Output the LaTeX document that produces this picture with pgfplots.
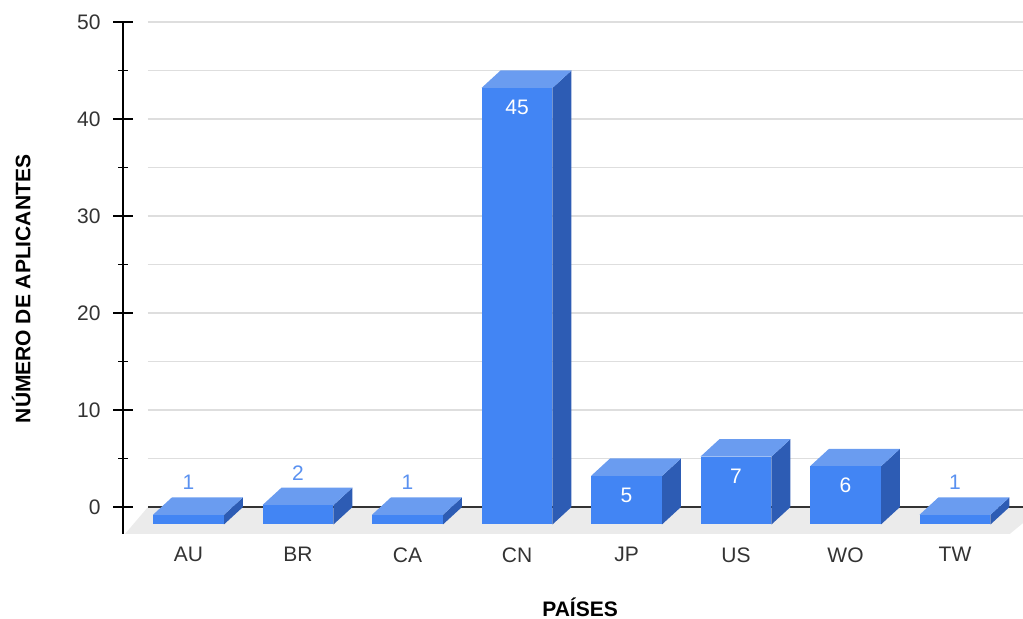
\documentclass[border=0pt]{standalone}
\usepackage{pgfplots}
\pgfplotsset{compat=1.18}
\usepackage{pgfplotstable}
\usepackage{fontspec}
\setmainfont{Liberation Sans}

\definecolor{barfront}{HTML}{4285F4}
\definecolor{bartop}{HTML}{6A9CF0}
\definecolor{barside}{HTML}{2D5CB4}
\definecolor{floorgray}{HTML}{EBEBEB}
\definecolor{gridgray}{HTML}{DEDEDE}
\definecolor{labelblue}{HTML}{5A91F0}
\definecolor{axisdark}{HTML}{333333}
\definecolor{textdark}{HTML}{333333}

% applicants per country
\pgfplotstableread{
idx pais val
0 AU 1
1 BR 2
2 CA 1
3 CN 45
4 JP 5
5 US 7
6 WO 6
7 TW 1
}\paises

% box geometry in axis units
\def\hw{0.324}   % half width of the front face
\def\ddx{0.1735} % depth offset along x
\def\ddy{1.8}    % depth offset along y

\newcommand\chartfont{\fontsize{21}{25}\selectfont}
\newcommand\titlefont{\fontsize{21}{25}\selectfont}

\begin{document}
\begin{tikzpicture}
\begin{axis}[
  x=109.5pt, y=9.7pt,
  xmin=-0.598, xmax=7.621, ymin=-2.78, ymax=50,
  axis lines*=left,
  axis line style={line width=1.3pt, black},
  x axis line style={draw=none},
  xtick={0,...,7},
  xticklabels={AU,BR,CA,CN,JP,US,WO,TW},
  x tick style={draw=none},
  ytick={0,10,...,50},
  minor ytick={5,15,...,45},
  tick align=center,
  major tick length=20pt,
  minor tick length=10pt,
  y tick style={line width=1.3pt, black},
  tick label style={font=\chartfont, text=textdark},
  /pgf/number format/assume math mode=true,
  xticklabel style={yshift=0pt},
  yticklabel style={xshift=-9pt},
  xlabel={PAÍSES},
  ylabel={NÚMERO DE APLICANTES},
  every axis x label/.style={at={(axis description cs:0.5078,-0.1605)}, anchor=base,
    inner sep=0pt, font=\titlefont\bfseries, text=black},
  every axis y label/.style={at={(axis description cs:-0.1133,0.4785)}, rotate=90, anchor=center,
    font=\titlefont\bfseries, text=black},
  clip=true,
]
% floor
\addplot[fill=floorgray, draw=none] coordinates {(-0.58,-2.78) (7.50,-2.78) (7.80,0) (-0.37,0)};
% back-plane grid
\pgfplotsinvokeforeach{5,10,...,50}{
  \draw[gridgray, line width=1.2pt] (axis cs:-0.37,#1) -- (axis cs:7.7,#1);
}
\draw[axisdark, line width=1.6pt] (axis cs:-0.37,0) -- (axis cs:7.7,0);
% boxes: side, top, front
\pgfplotsinvokeforeach{0,...,7}{
  \pgfplotstablegetelem{#1}{val}\of\paises
  \pgfmathsetmacro\bv{\pgfplotsretval}
  \pgfmathsetmacro\xl{#1-\hw}
  \pgfmathsetmacro\xr{#1+\hw}
  \pgfmathsetmacro\xlb{#1-\hw+\ddx}
  \pgfmathsetmacro\xrb{#1+\hw+\ddx}
  \pgfmathsetmacro\yf{\bv-\ddy}
  \pgfmathsetmacro\yb{-\ddy}
  \edef\drawbox{%
    \noexpand\addplot[fill=barside, draw=none] coordinates {(\xr,\yb) (\xrb,0) (\xrb,\bv) (\xr,\yf)};
    \noexpand\addplot[fill=bartop, draw=none] coordinates {(\xl,\yf) (\xr,\yf) (\xrb,\bv) (\xlb,\bv)};
    \noexpand\addplot[fill=barfront, draw=none] coordinates {(\xl,\yb) (\xr,\yb) (\xr,\yf) (\xl,\yf)};
  }%
  \drawbox
}
% value labels inside tall boxes
\addplot[draw=none, nodes near coords, point meta=explicit,
  every node near coord/.append style={anchor=center, text=white, font=\chartfont}]
  table[x=idx, y expr={\thisrow{val}>3 ? \thisrow{val}-3.8 : nan}, meta=val] {\paises};
% value labels above flat boxes
\addplot[draw=none, nodes near coords, point meta=explicit,
  every node near coord/.append style={anchor=center, text=labelblue, font=\chartfont}]
  table[x=idx, y expr={\thisrow{val}>3 ? nan : \thisrow{val}+1.5}, meta=val] {\paises};
\coordinate (bbsw) at (axis cs:-1.7215,-11.546);
\coordinate (bbne) at (axis cs:7.621,52.268);
\end{axis}
\pgfresetboundingbox
\path[use as bounding box] (bbsw) rectangle (bbne);
\end{tikzpicture}
\end{document}
